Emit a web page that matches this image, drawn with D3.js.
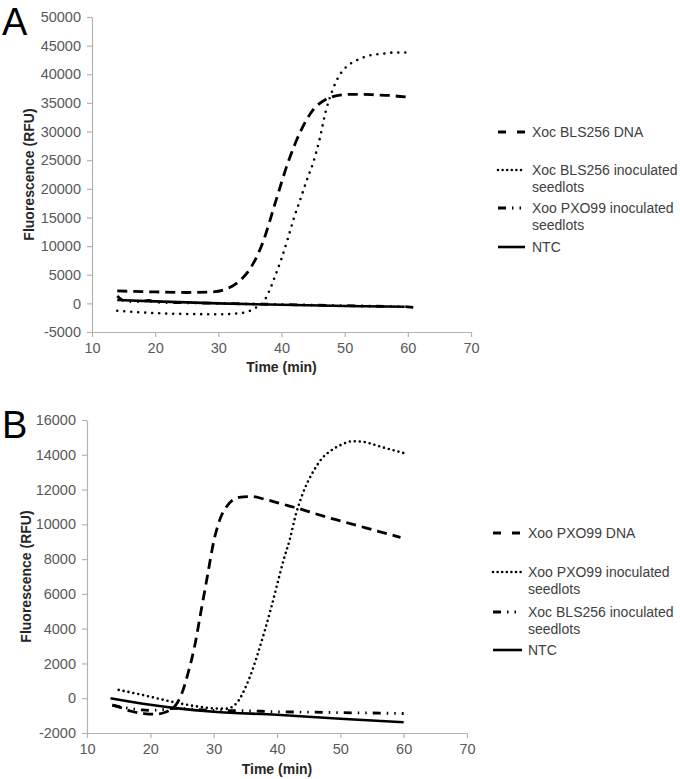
<!DOCTYPE html>
<html><head><meta charset="utf-8">
<script src="https://cdn.jsdelivr.net/npm/d3@7"></script>
<style>
html,body{margin:0;padding:0;background:#fff;}
svg{display:block;font-family:"Liberation Sans",Arial,sans-serif;}
.axis path,.axis line{stroke:#b3b3b3;stroke-width:1.2;}
.axis text{fill:#595959;font-size:14.5px;font-family:"Liberation Sans",Arial,sans-serif;}
</style></head>
<body>
<svg id="chart" width="680" height="779"></svg>
<script>
// ---------- Panel A data ----------
const xTicks = [10, 20, 30, 40, 50, 60, 70];
const A_yTicks = [-5000, 0, 5000, 10000, 15000, 20000, 25000, 30000, 35000, 40000, 45000, 50000];
const A_legend = ["Xoc BLS256 DNA", "Xoc BLS256 inoculated seedlots", "Xoo PXO99 inoculated seedlots", "NTC"];

const A_dna_t = [14, 16, 20, 25, 29, 31, 33, 35, 37, 39, 41, 43, 45, 47, 49, 51, 53, 55, 57, 60];
const A_dna_v = [2200, 2100, 2000, 1900, 2000, 2400, 3600, 6000, 10500, 17500, 24500, 30000, 33800, 35600, 36300, 36500, 36500, 36400, 36300, 36000];

const A_seed_t = [14, 20, 25, 30, 33, 35, 36, 37, 38, 39, 40, 41, 42, 43, 44, 45, 46, 47, 48, 49, 50, 52, 54, 56, 58, 60];
const A_seed_v = [-1300, -1700, -1850, -1900, -1750, -1300, -700, 0, 2000, 4800, 7800, 11300, 15000, 18200, 21500, 24500, 28500, 33500, 37000, 39500, 41000, 42500, 43300, 43600, 43800, 43800];

const A_xoo_t = [14, 14.5, 15, 16, 18, 19, 20, 25, 30, 35, 40, 45, 50, 55, 60, 61];
const A_xoo_v = [1300, 800, 500, 300, 350, 500, 200, 100, 0, -100, -200, -300, -400, -500, -600, -700];

const A_ntc_t = [14, 20, 30, 40, 50, 59.5];
const A_ntc_v = [600, 350, 0, -250, -450, -600];

// ---------- Panel B data ----------
const B_yTicks = [-2000, 0, 2000, 4000, 6000, 8000, 10000, 12000, 14000, 16000];
const B_legend = ["Xoo PXO99 DNA", "Xoo PXO99 inoculated seedlots", "Xoc BLS256 inoculated seedlots", "NTC"];

const B_dna_t = [14, 15, 17, 19, 20.5, 22, 23, 24, 25, 26, 27, 28, 29, 30, 31, 32, 33, 34, 36, 38, 40, 42, 44, 46, 48, 50, 52, 54, 56, 58, 59.5];
const B_dna_v = [-400, -500, -750, -880, -920, -850, -700, -400, 300, 1500, 3000, 5000, 7000, 9000, 10300, 11000, 11400, 11550, 11600, 11450, 11250, 11050, 10850, 10620, 10400, 10200, 10000, 9800, 9600, 9400, 9250];

const B_seed_t = [15, 18, 21, 24, 27, 30, 32, 33, 34, 35, 36, 37, 38, 39, 40, 41, 42, 43, 44, 45, 46, 47, 48, 50, 52, 54, 56, 58, 60];
const B_seed_v = [480, 250, 0, -250, -450, -580, -600, -480, -100, 600, 1500, 2600, 3800, 5100, 6500, 7900, 9100, 10600, 11700, 12550, 13200, 13750, 14100, 14550, 14780, 14720, 14500, 14300, 14100];

const B_xoc_t = [14, 16, 18, 20, 22, 24, 26, 30, 35, 40, 45, 50, 55, 60];
const B_xoc_v = [-400, -550, -650, -700, -650, -580, -620, -700, -720, -780, -800, -830, -850, -880];

const B_ntc_t = [13.7, 20, 24, 30, 40, 50, 60];
const B_ntc_v = [0, -380, -570, -780, -950, -1180, -1380];

// ---------- styles ----------
const styles = {
  dash:   {width: 2.8, dash: "10,6", cap: "butt"},
  dotA:   {width: 2.6, dash: "0,7", cap: "round"},
  dotB:   {width: 2.6, dash: "0,5", cap: "round"},
  dashdot:{width: 2.8, dash: "8,6,1.5,6,1.5,6", cap: "butt"},
  solid:  {width: 2.6, dash: null, cap: "butt"}
};

const svg = d3.select("#chart");
const zip = (t, v) => t.map((d, i) => ({t: d, v: v[i]}));
const plain = d => String(d);

function panel(cfg) {
  const x = d3.scaleLinear().domain([10, 70]).range(cfg.xr);
  const y = d3.scaleLinear().domain(cfg.yd).range(cfg.yr);
  const g = svg.append("g");

  g.append("g").attr("class", "axis")
    .attr("transform", `translate(0,${cfg.yr[0]})`)
    .call(d3.axisBottom(x).tickValues(xTicks).tickSize(5).tickSizeOuter(0).tickPadding(6).tickFormat(plain));
  g.append("g").attr("class", "axis")
    .attr("transform", `translate(${cfg.xr[0]},0)`)
    .call(d3.axisLeft(y).tickValues(cfg.yTicks).tickSize(5).tickSizeOuter(0).tickPadding(6).tickFormat(plain));

  const line = d3.line().x(d => x(d.t)).y(d => y(d.v)).curve(d3.curveMonotoneX);
  cfg.series.forEach(s => {
    const st = styles[s.style];
    g.append("path").datum(zip(s.t, s.v))
      .attr("d", line).attr("fill", "none").attr("stroke", "#000")
      .attr("stroke-width", st.width).attr("stroke-linecap", st.cap)
      .attr("stroke-dasharray", st.dash);
  });

  // axis titles
  g.append("text").attr("x", (cfg.xr[0] + cfg.xr[1]) / 2).attr("y", cfg.xTitleY)
    .attr("text-anchor", "middle").attr("font-size", 14).attr("font-weight", "bold").attr("fill", "#262626")
    .text("Time (min)");
  g.append("text").attr("transform", `translate(${cfg.yTitleX},${(cfg.yr[0] + cfg.yr[1]) / 2}) rotate(-90)`)
    .attr("text-anchor", "middle").attr("font-size", 14).attr("font-weight", "bold").attr("fill", "#262626")
    .text("Fluorescence (RFU)");

  // panel letter
  g.append("text").attr("x", cfg.letterX).attr("y", cfg.letterY).attr("font-size", 38).attr("fill", "#000")
    .text(cfg.letter);

  // legend
  const lg = g.append("g");
  cfg.series.forEach((s, i) => {
    const st = styles[s.style];
    const ly = cfg.legendY[i];
    lg.append("line").attr("x1", cfg.legX0).attr("x2", cfg.legX1).attr("y1", ly).attr("y2", ly)
      .attr("stroke", "#000").attr("stroke-width", st.width).attr("stroke-linecap", st.cap)
      .attr("stroke-dasharray", s.legendDash || st.dash);
    const words = cfg.legend[i];
    const lines = words.endsWith(" seedlots") ? [words.replace(" seedlots", ""), "seedlots"] : [words];
    lines.forEach((ln, j) => {
      lg.append("text").attr("x", cfg.legTextX).attr("y", ly + j * 16.5 + 5)
        .attr("font-size", 14).attr("fill", "#404040").text(ln);
    });
  });
}

panel({
  letter: "A", letterX: 2, letterY: 35,
  xr: [92, 471], yd: [-5000, 50000], yr: [332, 17], yTicks: A_yTicks,
  xTitleY: 372, yTitleX: 34,
  legend: A_legend, legendY: [132, 170, 208, 247], legX0: 498, legX1: 525, legTextX: 532,
  series: [
    {t: A_dna_t, v: A_dna_v, style: "dash", legendDash: "8,11"},
    {t: A_seed_t, v: A_seed_v, style: "dotA", legendDash: "0,4.6"},
    {t: A_xoo_t, v: A_xoo_v, style: "dashdot", legendDash: "8,6,1.5,6,1.5,6"},
    {t: A_ntc_t, v: A_ntc_v, style: "solid"}
  ]
});

panel({
  letter: "B", letterX: 2, letterY: 438,
  xr: [87, 467], yd: [-2000, 16000], yr: [733, 420], yTicks: B_yTicks,
  xTitleY: 774, yTitleX: 31,
  legend: B_legend, legendY: [533, 572, 612, 650], legX0: 493, legX1: 522, legTextX: 528,
  series: [
    {t: B_dna_t, v: B_dna_v, style: "dash", legendDash: "8,11"},
    {t: B_seed_t, v: B_seed_v, style: "dotB", legendDash: "0,4.6"},
    {t: B_xoc_t, v: B_xoc_v, style: "dashdot", legendDash: "8,6,1.5,6,1.5,6"},
    {t: B_ntc_t, v: B_ntc_v, style: "solid"}
  ]
});
</script>
</body></html>
